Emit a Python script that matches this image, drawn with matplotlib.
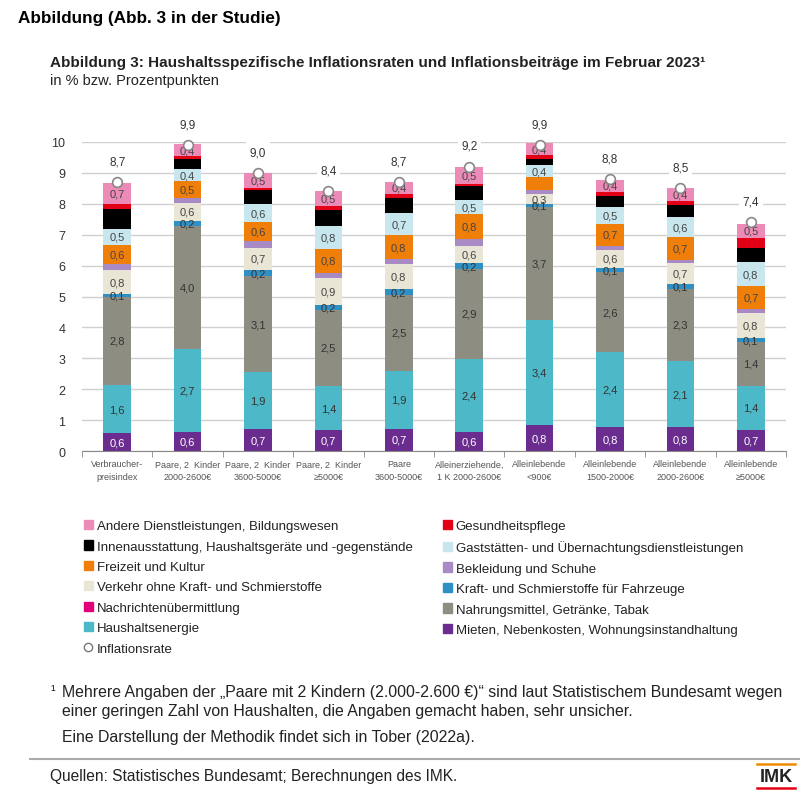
import matplotlib.pyplot as plt
from matplotlib.patches import Patch
from matplotlib.lines import Line2D

plt.rcParams['font.family'] = ['Liberation Sans', 'DejaVu Sans']

# Haushaltstypen
kategorien = ['Verbraucher-\npreisindex', 'Paare, 2  Kinder\n2000-2600€', 'Paare, 2  Kinder\n3600-5000€',
              'Paare, 2  Kinder\n≥5000€', 'Paare\n3600-5000€', 'Alleinerziehende,\n1 K 2000-2600€',
              'Alleinlebende\n<900€', 'Alleinlebende\n1500-2000€', 'Alleinlebende\n2000-2600€',
              'Alleinlebende\n≥5000€']

# Inflationsbeiträge in Prozentpunkten (von unten nach oben gestapelt)
mieten = [0.57, 0.62, 0.70, 0.68, 0.72, 0.62, 0.84, 0.78, 0.78, 0.68]
energie = [1.58, 2.69, 1.86, 1.42, 1.87, 2.37, 3.39, 2.42, 2.13, 1.44]
nahrung = [2.83, 3.96, 3.09, 2.47, 2.46, 2.90, 3.68, 2.58, 2.34, 1.40]
kraftstoffe = [0.09, 0.17, 0.22, 0.16, 0.19, 0.19, 0.08, 0.14, 0.14, 0.13]
verkehr = [0.78, 0.59, 0.70, 0.86, 0.81, 0.55, 0.32, 0.59, 0.69, 0.83]
bekleidung = [0.21, 0.17, 0.21, 0.18, 0.15, 0.24, 0.14, 0.14, 0.10, 0.13]
freizeit = [0.62, 0.54, 0.62, 0.76, 0.79, 0.79, 0.40, 0.70, 0.74, 0.72]
gaststaetten = [0.51, 0.38, 0.60, 0.76, 0.71, 0.47, 0.40, 0.53, 0.64, 0.78]
innen = [0.64, 0.32, 0.45, 0.52, 0.48, 0.45, 0.21, 0.37, 0.41, 0.46]
gesundheit = [0.15, 0.09, 0.07, 0.11, 0.14, 0.06, 0.11, 0.13, 0.11, 0.33]
nachrichten = [0, 0, 0, 0, 0, 0, 0, 0, 0, 0]
andere = [0.69, 0.39, 0.46, 0.49, 0.38, 0.54, 0.39, 0.40, 0.43, 0.46]

inflationsrate = [8.7, 9.9, 9.0, 8.4, 8.7, 9.2, 9.9, 8.8, 8.5, 7.4]

# name, werte, farbe, beschriftet, textfarbe
reihen = [
    ('Mieten, Nebenkosten, Wohnungsinstandhaltung', mieten, '#6a2c8e', True, 'white'),
    ('Haushaltsenergie', energie, '#4db8c8', True, '#333333'),
    ('Nahrungsmittel, Getränke, Tabak', nahrung, '#8e8d82', True, '#333333'),
    ('Kraft- und Schmierstoffe für Fahrzeuge', kraftstoffe, '#2f90c6', True, '#333333'),
    ('Verkehr ohne Kraft- und Schmierstoffe', verkehr, '#e9e6d6', True, '#444444'),
    ('Bekleidung und Schuhe', bekleidung, '#a88ac4', False, '#333333'),
    ('Freizeit und Kultur', freizeit, '#f07f0a', True, '#444444'),
    ('Gaststätten- und Übernachtungsdienstleistungen', gaststaetten, '#c8e6ee', True, '#444444'),
    ('Innenausstattung, Haushaltsgeräte und -gegenstände', innen, '#000000', False, 'white'),
    ('Gesundheitspflege', gesundheit, '#e30016', False, 'white'),
    ('Nachrichtenübermittlung', nachrichten, '#e2007a', False, 'white'),
    ('Andere Dienstleistungen, Bildungswesen', andere, '#ec8bb8', True, '#444444'),
]
ohne_label = [(6, 'Freizeit und Kultur')]

fig = plt.figure(figsize=(8, 8.03), dpi=100)
ax = fig.add_axes([0.1025, 0.437, 0.88, 0.385])

x = list(range(len(kategorien)))
unten = [0.0] * len(kategorien)
farben = {}
for name, werte, farbe, beschriftet, tfarbe in reihen:
    farben[name] = farbe
    ax.bar(x, werte, bottom=unten, width=0.39, color=farbe, zorder=2)
    if beschriftet:
        for i, v in enumerate(werte):
            if (i, name) in ohne_label:
                continue
            ax.text(i, unten[i] + v / 2, f'{v:.1f}'.replace('.', ','), ha='center', va='center',
                    fontsize=8, color=tfarbe, zorder=4)
    unten = [u + v for u, v in zip(unten, werte)]

ax.plot(x, inflationsrate, 'o', ms=7, mfc='white', mec='#888888', mew=1.2, ls='none',
        zorder=5, clip_on=False)
for i, r in enumerate(inflationsrate):
    ax.annotate(f'{r:.1f}'.replace('.', ','), (i, r), xytext=(0, 15), textcoords='offset points',
                ha='center', va='center', fontsize=8.5, color='#333333', annotation_clip=False,
                bbox=dict(boxstyle='square,pad=0.3', fc='white', ec='none'), zorder=6)

ax.set_xlim(-0.5, 9.5)
ax.set_ylim(0, 10)
ax.set_yticks(range(0, 11))
ax.yaxis.grid(True, color='#d0d0d0', lw=1, zorder=0)
ax.set_axisbelow(True)
for s in ['top', 'right', 'left']:
    ax.spines[s].set_visible(False)
ax.spines['bottom'].set_color('#888888')
ax.tick_params(axis='y', length=0, labelsize=9, colors='#333333', pad=12)
ax.set_xticks([i + 0.5 for i in range(-1, 10)], minor=True)
ax.tick_params(axis='x', which='minor', length=4, color='#888888')
ax.set_xticks(x)
ax.set_xticklabels(kategorien, fontsize=6.5, color='#555555', linespacing=1.5)
ax.tick_params(axis='x', which='major', length=0, pad=6)

# Legende
reihenfolge = ['Andere Dienstleistungen, Bildungswesen', 'Innenausstattung, Haushaltsgeräte und -gegenstände',
               'Freizeit und Kultur', 'Verkehr ohne Kraft- und Schmierstoffe', 'Nachrichtenübermittlung',
               'Haushaltsenergie', None,
               'Gesundheitspflege', 'Gaststätten- und Übernachtungsdienstleistungen', 'Bekleidung und Schuhe',
               'Kraft- und Schmierstoffe für Fahrzeuge', 'Nahrungsmittel, Getränke, Tabak',
               'Mieten, Nebenkosten, Wohnungsinstandhaltung']
handles = []
labels = []
for n in reihenfolge:
    if n is None:
        handles.append(Line2D([], [], marker='o', ls='none', ms=6, mfc='white', mec='#777777'))
        labels.append('Inflationsrate')
    else:
        handles.append(Patch(color=farben[n]))
        labels.append(n)
fig.legend(handles, labels, ncol=2, loc='upper left', bbox_to_anchor=(0.09, 0.366), frameon=False,
           fontsize=9.5, handlelength=0.7, handleheight=0.7, handletextpad=0.3, labelspacing=0.62,
           columnspacing=2.25, labelcolor='#222222')

# Texte
fig.text(0.022, 0.977, 'Abbildung (Abb. 3 in der Studie)', fontsize=12.3, fontweight='bold', va='center')
fig.text(0.0625, 0.921, 'Abbildung 3: Haushaltsspezifische Inflationsraten und Inflationsbeiträge im Februar 2023¹',
         fontsize=11, fontweight='bold', va='center', color='#222222')
fig.text(0.0625, 0.899, 'in % bzw. Prozentpunkten', fontsize=10.5, va='center', color='#222222')

fig.text(0.063, 0.139, '¹', fontsize=10, va='center', color='#222222')
fig.text(0.077, 0.137, 'Mehrere Angaben der „Paare mit 2 Kindern (2.000-2.600 €)“ sind laut Statistischem Bundesamt wegen',
         fontsize=11.4, va='center', color='#222222')
fig.text(0.077, 0.114, 'einer geringen Zahl von Haushalten, die Angaben gemacht haben, sehr unsicher.',
         fontsize=11.4, va='center', color='#222222')
fig.text(0.077, 0.081, 'Eine Darstellung der Methodik findet sich in Tober (2022a).',
         fontsize=11.4, va='center', color='#222222')
fig.add_artist(Line2D([0.037, 1.0], [0.054, 0.054], color='#aaaaaa', lw=1.5))
fig.text(0.063, 0.033, 'Quellen: Statistisches Bundesamt; Berechnungen des IMK.', fontsize=11.2, va='center',
         color='#222222')
fig.text(0.97, 0.032, 'IMK', fontsize=13, fontweight='bold', ha='center', va='center', color='#222222')
fig.add_artist(Line2D([0.946, 0.994], [0.047, 0.047], color='#f08a00', lw=1.8))
fig.add_artist(Line2D([0.946, 0.994], [0.017, 0.017], color='#e30016', lw=1.8))

fig.savefig('out.png', dpi=100)
